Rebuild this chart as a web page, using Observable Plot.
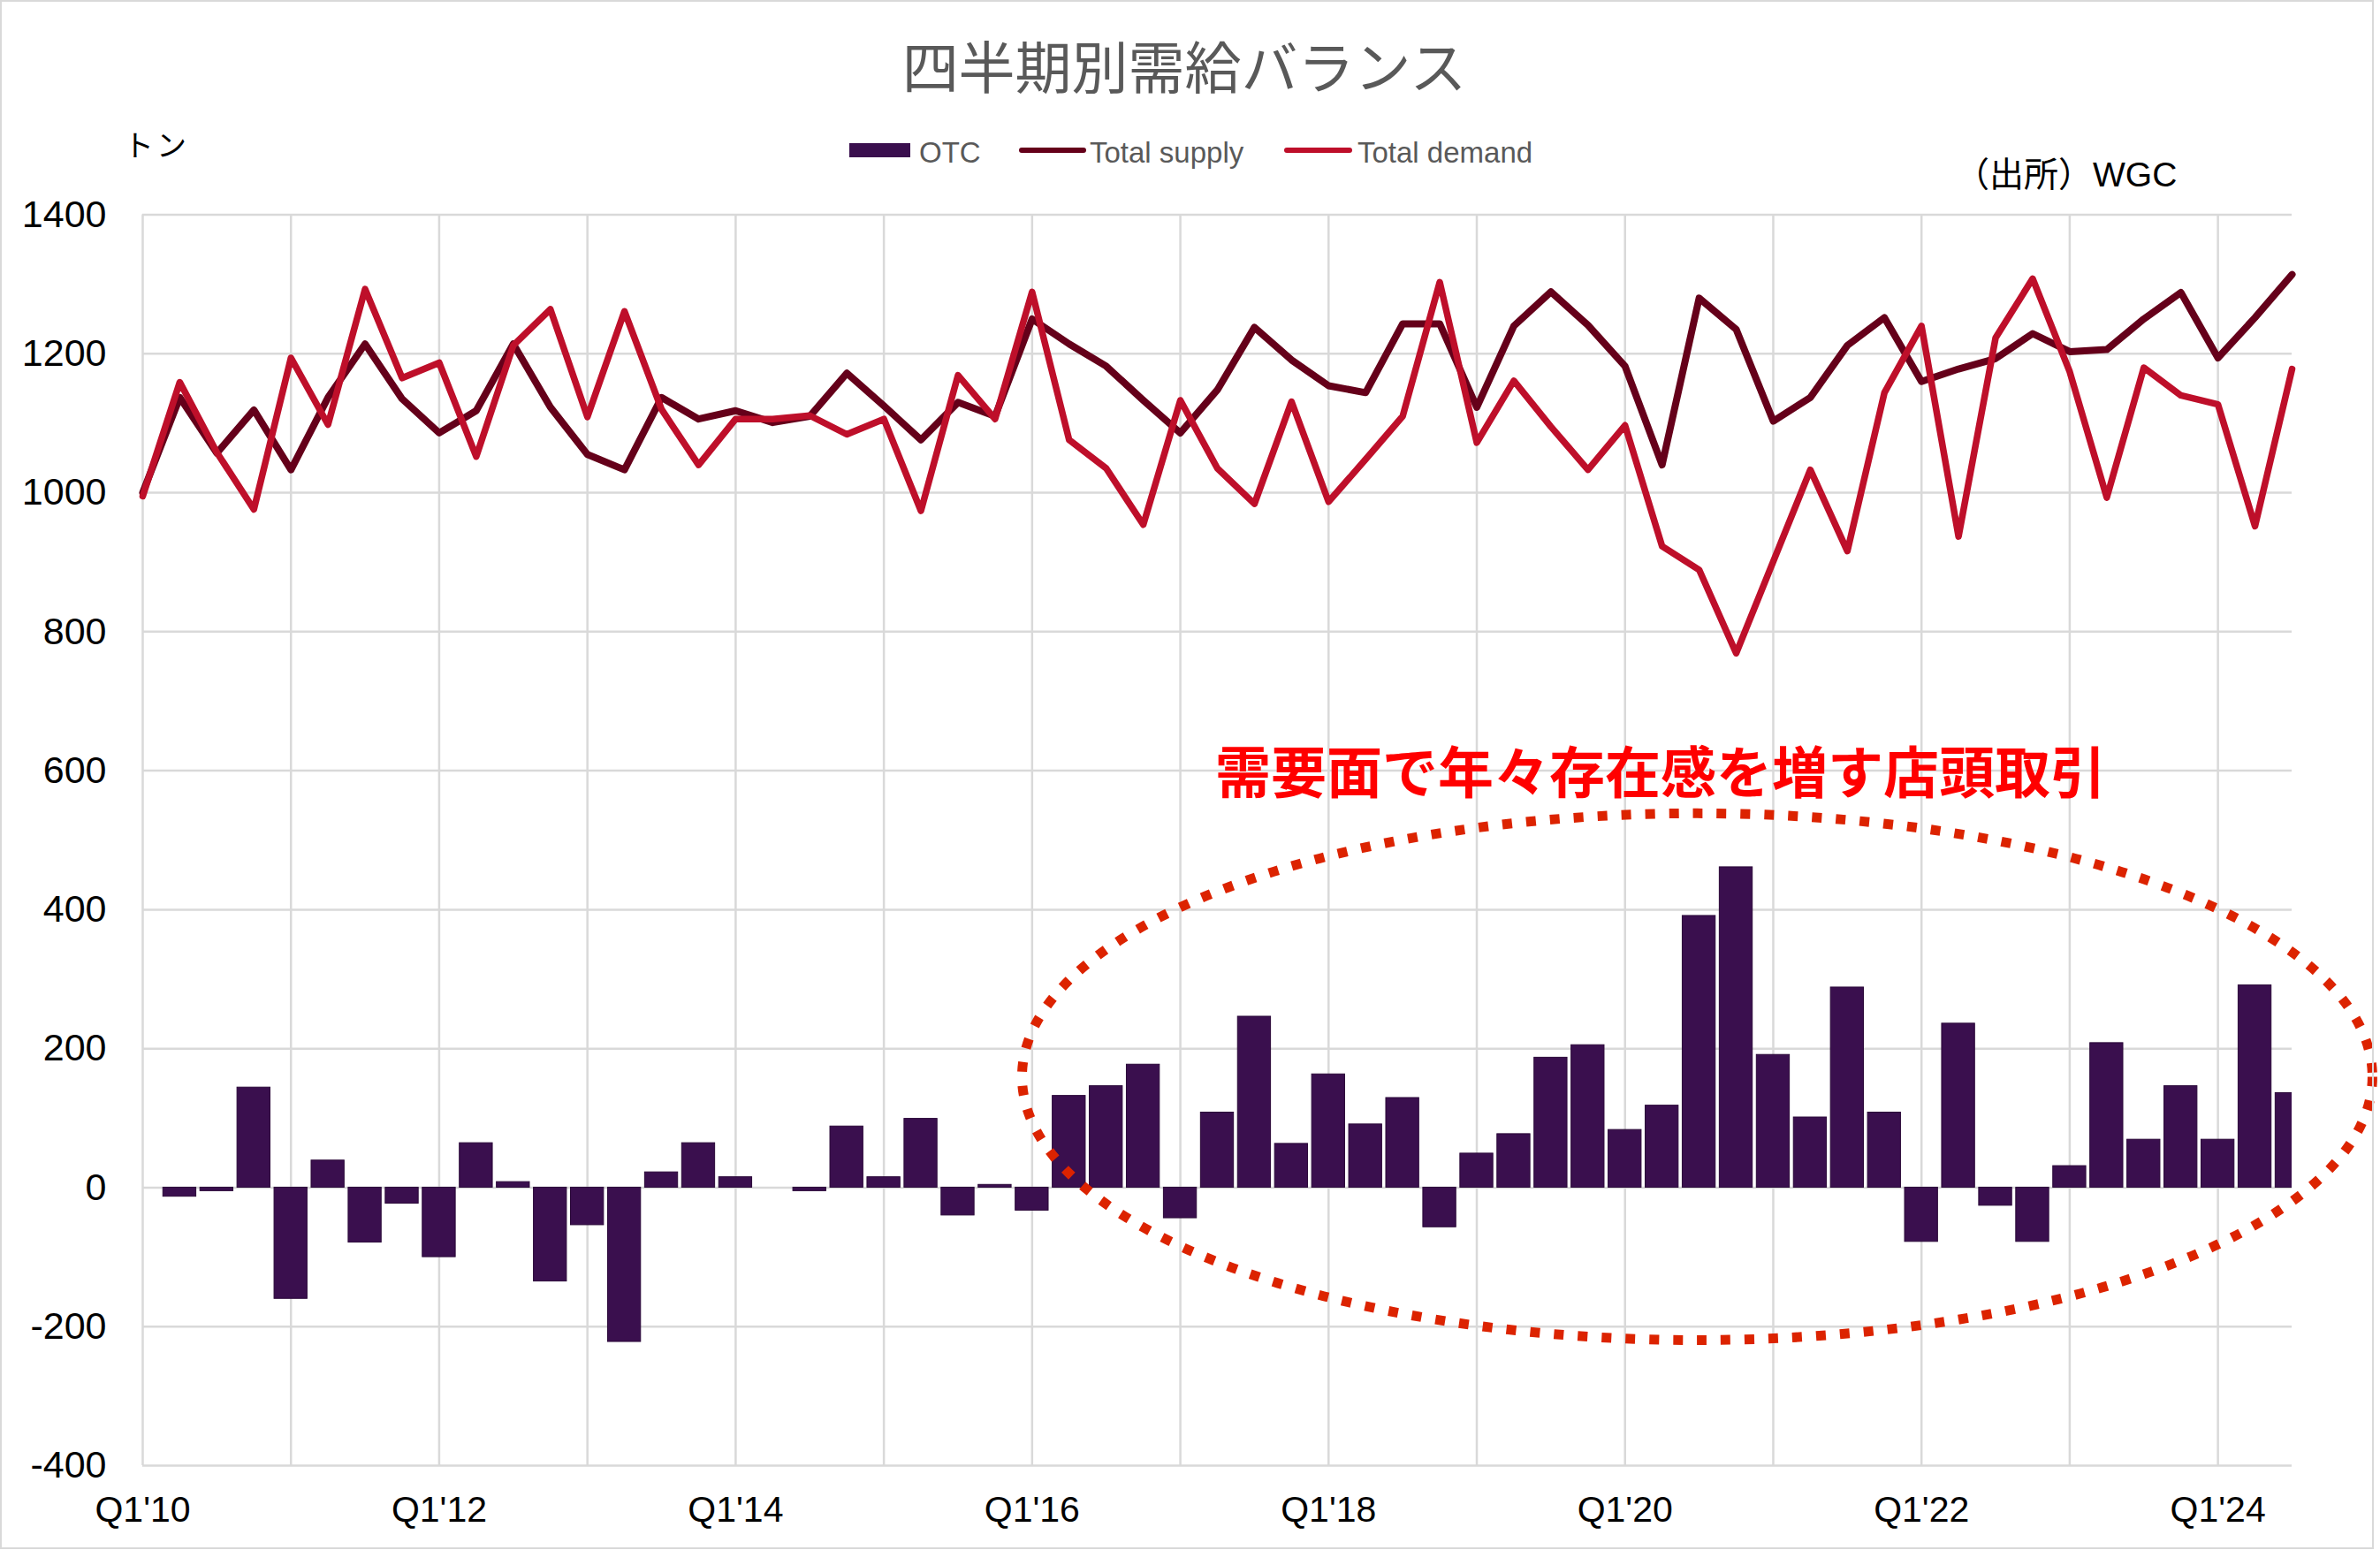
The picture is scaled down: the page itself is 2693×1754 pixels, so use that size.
<!DOCTYPE html>
<html><head><meta charset="utf-8">
<script src="https://cdn.jsdelivr.net/npm/d3@7"></script>
<script src="https://cdn.jsdelivr.net/npm/@observablehq/plot@0.6"></script>
<style>
html,body{margin:0;padding:0;background:#fff;}
#chart{position:relative;width:2693px;height:1754px;}
</style></head><body><div id="chart"></div>
<script>
const quarters = [
  "Q1'10","Q2'10","Q3'10","Q4'10","Q1'11","Q2'11","Q3'11","Q4'11",
  "Q1'12","Q2'12","Q3'12","Q4'12","Q1'13","Q2'13","Q3'13","Q4'13",
  "Q1'14","Q2'14","Q3'14","Q4'14","Q1'15","Q2'15","Q3'15","Q4'15",
  "Q1'16","Q2'16","Q3'16","Q4'16","Q1'17","Q2'17","Q3'17","Q4'17",
  "Q1'18","Q2'18","Q3'18","Q4'18","Q1'19","Q2'19","Q3'19","Q4'19",
  "Q1'20","Q2'20","Q3'20","Q4'20","Q1'21","Q2'21","Q3'21","Q4'21",
  "Q1'22","Q2'22","Q3'22","Q4'22","Q1'23","Q2'23","Q3'23","Q4'23",
  "Q1'24","Q2'24","Q3'24"
];
const otcValues = [
  0, -13, -5, 144, -160, 39, -79, -23,
  -100, 64, 8, -135, -54, -222, 22, 64,
  15, 0, -5, 88, 15, 99, -40, 4,
  -33, 132, 146, 177, -44, 108, 246, 63,
  163, 91, 129, -57, 49, 77, 187, 205,
  83, 118, 391, 461, 191, 101, 288, 108,
  -78, 236, -26, -78, 31, 208, 69, 146,
  69, 291, 136
];
const supplyValues = [
  1000, 1137, 1057, 1119, 1033, 1137, 1214, 1135,
  1086, 1118, 1214, 1123, 1055, 1033, 1137, 1106,
  1118, 1101, 1110, 1172, 1125, 1076, 1130, 1110,
  1250, 1214, 1182, 1133, 1086, 1148, 1238, 1191,
  1154, 1144, 1243, 1243, 1123, 1240, 1289, 1241,
  1182, 1040, 1280, 1235, 1103, 1137, 1212, 1252,
  1160, 1178, 1193, 1229, 1203, 1206, 1250, 1288,
  1194, 1252, 1314
];
const demandValues = [
  995, 1159, 1058, 976, 1194, 1098, 1293, 1165,
  1187, 1052, 1212, 1264, 1109, 1261, 1120, 1040,
  1106, 1106, 1111, 1084, 1106, 974, 1169, 1106,
  1289, 1076, 1035, 954, 1133, 1035, 984, 1131,
  987, 1048, 1110, 1303, 1072, 1161, 1095, 1033,
  1097, 923, 889, 769, 901, 1033, 916, 1144,
  1240, 937, 1223, 1308, 1174, 993, 1180, 1140,
  1127, 952, 1178
];
const yTicks = [-400, -200, 0, 200, 400, 600, 800, 1000, 1200, 1400];
const xLabelTicks = [0, 8, 16, 24, 32, 40, 48, 56];
const xGridTicks = [0, 4, 8, 12, 16, 20, 24, 28, 32, 36, 40, 44, 48, 52, 56];
const seriesNames = ["OTC", "Total supply", "Total demand"];
const titleText = "四半期別需給バランス";
const unitText = "トン";
const sourceText = "（出所）WGC";
const noteText = [{x: 40.96, y: 594, text: "需要面で年々存在感を増す店頭取引"}];
const noteOval = {cx: 41.96, cy: 159, rx: 18.22, ry: 379};

const colors = {otc: "#3a0f4e", supply: "#65001a", demand: "#be0f2a"};
const latin = "'Liberation Sans', Arial, sans-serif";
const cjk = "'Noto Sans CJK JP', 'Noto Sans', sans-serif";

const rows = quarters.map((q, i) => ({i, q, otc: otcValues[i], supply: supplyValues[i], demand: demandValues[i]}));

const W = 2693, H = 1754;
const chart = Plot.plot({
  width: W, height: H,
  marginLeft: 161, marginRight: 100, marginTop: 242.5, marginBottom: 96,
  style: {fontFamily: latin, background: "#fff", overflow: "visible"},
  x: {type: "linear", domain: [0, quarters.length - 1]},
  y: {domain: [-400, 1400]},
  marks: [
    Plot.gridY(yTicks, {stroke: "#d9d9d9", strokeOpacity: 1, strokeWidth: 2.5}),
    Plot.gridX(xGridTicks, {stroke: "#d9d9d9", strokeOpacity: 1, strokeWidth: 2.5}),
    Plot.rectY(rows, {x1: d => d.i - 0.5, x2: d => d.i + 0.5, y1: 0, y2: "otc",
      insetLeft: 2.3, insetRight: 2.3, fill: colors.otc, stroke: "#2a0838", strokeWidth: 1, clip: true}),
    Plot.line(rows, {x: "i", y: "supply", stroke: colors.supply, strokeWidth: 8}),
    Plot.line(rows, {x: "i", y: "demand", stroke: colors.demand, strokeWidth: 7.5}),
    Plot.axisY(yTicks, {tickSize: 0, tickPadding: 41, fontSize: 43, fill: "#000", label: null,
      tickFormat: d => String(d)}),
    Plot.axisX(xLabelTicks, {tickSize: 0, tickPadding: 34, fontSize: 41, fill: "#000", label: null,
      tickFormat: i => quarters[i]}),
    Plot.text(noteText, {x: "x", y: "y", text: "text", fill: "#ff0000", fontSize: 63,
      fontWeight: "bold", fontFamily: cjk})
  ]
});
document.getElementById("chart").appendChild(chart);

const svgNode = chart.tagName.toLowerCase() === "svg" ? chart : chart.querySelector("svg");
const svg = d3.select(svgNode);
const sx = chart.scale("x"), sy = chart.scale("y");

// dotted oval annotation
const cx = sx.apply(noteOval.cx), cy = sy.apply(noteOval.cy);
const rx = sx.apply(noteOval.cx + noteOval.rx) - cx;
const ry = cy - sy.apply(noteOval.cy + noteOval.ry);
svg.append("ellipse")
  .attr("cx", cx).attr("cy", cy).attr("rx", rx).attr("ry", ry)
  .attr("fill", "none").attr("stroke", "#dc2300").attr("stroke-width", 11)
  .attr("stroke-dasharray", "11 16");

// outer border
svg.append("rect").attr("x", 1).attr("y", 1).attr("width", 2684).attr("height", 1751)
  .attr("fill", "none").attr("stroke", "#d9d9d9").attr("stroke-width", 2);

// title
svg.append("text").text(titleText)
  .attr("x", 1340).attr("y", 72).attr("text-anchor", "middle").attr("dominant-baseline", "central")
  .attr("font-family", cjk).attr("font-size", 64).attr("fill", "#595959");

// unit
svg.append("text").text(unitText)
  .attr("x", 140).attr("y", 162).attr("text-anchor", "start").attr("dominant-baseline", "central")
  .attr("font-family", cjk).attr("font-size", 34).attr("letter-spacing", 3).attr("fill", "#000");

// source
svg.append("text").text(sourceText)
  .attr("x", 2212).attr("y", 197).attr("text-anchor", "start").attr("dominant-baseline", "central")
  .attr("font-family", "'Liberation Sans', 'Noto Sans CJK JP', sans-serif").attr("font-size", 39).attr("fill", "#000");

// legend
const lg = svg.append("g").attr("font-family", latin).attr("font-size", 33).attr("fill", "#595959")
  .attr("text-anchor", "start");
lg.append("rect").attr("x", 961).attr("y", 162).attr("width", 69).attr("height", 16).attr("fill", colors.otc);
lg.append("text").text(seriesNames[0]).attr("x", 1040).attr("y", 172).attr("dominant-baseline", "central");
lg.append("line").attr("x1", 1156).attr("x2", 1226).attr("y1", 170).attr("y2", 170)
  .attr("stroke", colors.supply).attr("stroke-width", 6).attr("stroke-linecap", "round");
lg.append("text").text(seriesNames[1]).attr("x", 1233).attr("y", 172).attr("dominant-baseline", "central");
lg.append("line").attr("x1", 1456).attr("x2", 1527).attr("y1", 170).attr("y2", 170)
  .attr("stroke", colors.demand).attr("stroke-width", 6).attr("stroke-linecap", "round");
lg.append("text").text(seriesNames[2]).attr("x", 1536).attr("y", 172).attr("dominant-baseline", "central");
</script></body></html>
